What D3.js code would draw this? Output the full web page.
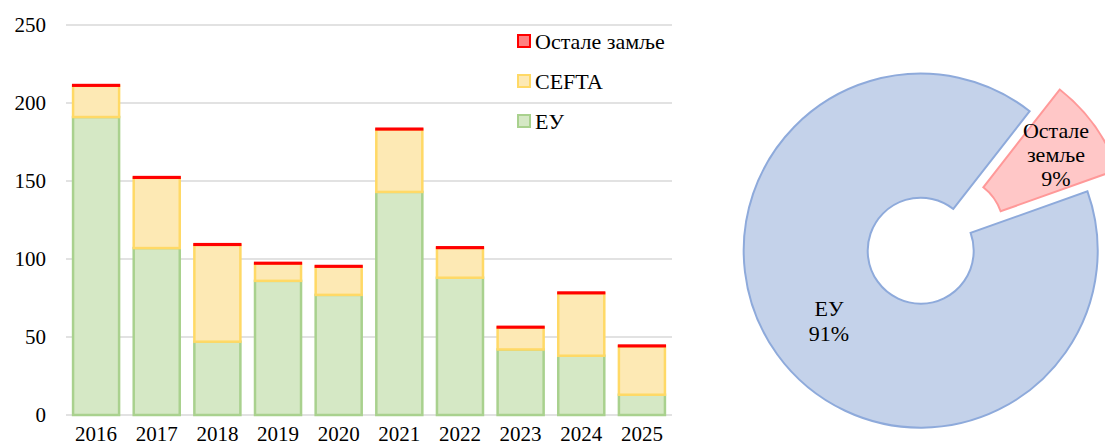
<!DOCTYPE html>
<html>
<head>
<meta charset="utf-8">
<script src="https://cdn.jsdelivr.net/npm/d3@7/dist/d3.min.js"></script>
<style>
  body { margin: 0; background: #fff; }
  svg { display: block; }
  text { font-family: "Liberation Serif", "DejaVu Serif", serif; fill: #000; }
</style>
</head>
<body>
<div id="chart"></div>
<script>
// data
var years = ["2016", "2017", "2018", "2019", "2020", "2021", "2022", "2023", "2024", "2025"];
var euValues = [191, 107, 47, 86, 77, 143, 88, 42, 38, 13];
var ceftaValues = [20, 45, 62, 11, 18, 40, 19, 14, 40, 31];
var otherValues = [0.6, 0.6, 0.6, 0.6, 0.6, 0.6, 0.6, 0.6, 0.6, 0.6];
var seriesNames = ["ЕУ", "CEFTA", "Остале замље"];
var yTicks = [0, 50, 100, 150, 200, 250];

var pieLabels = ["Остале земље", "ЕУ"];
var pieValues = [9, 91];

var width = 1105, height = 446;

var svg = d3.select("#chart")
  .append("svg")
  .attr("width", width)
  .attr("height", height);

// ---- stacked bars ----
var x = d3.scaleBand()
  .domain(years)
  .range([66, 672])
  .paddingInner(0.208)
  .paddingOuter(0.1);

var y = d3.scaleLinear()
  .domain([0, 250])
  .range([415, 25]);

// gridlines
svg.append("g")
  .selectAll("line")
  .data(yTicks)
  .enter()
  .append("line")
  .attr("x1", 66)
  .attr("x2", 672)
  .attr("y1", function(d) { return y(d); })
  .attr("y2", function(d) { return y(d); })
  .attr("stroke", "#d9d9d9")
  .attr("stroke-width", 1.3);

// y tick labels
svg.append("g")
  .selectAll("text")
  .data(yTicks)
  .enter()
  .append("text")
  .attr("x", 46)
  .attr("y", function(d) { return y(d); })
  .attr("dy", "0.35em")
  .attr("text-anchor", "end")
  .style("font-size", "21px")
  .text(function(d) { return d; });

// x labels (kept just inside the bottom edge)
svg.append("g")
  .selectAll("text")
  .data(years)
  .enter()
  .append("text")
  .attr("x", function(d) { return x(d) + x.bandwidth() / 2; })
  .attr("y", 441)
  .attr("text-anchor", "middle")
  .style("font-size", "21px")
  .text(function(d) { return d; });

var rows = years.map(function(yr, i) {
  return { year: yr, eu: euValues[i], cefta: ceftaValues[i], other: otherValues[i] };
});

var stack = d3.stack().keys(["eu", "cefta", "other"]);
var stacked = stack(rows);

var fills = { eu: "#d5e8c5", cefta: "#fde9b4", other: "#ff8080" };
var strokes = { eu: "#a9d18e", cefta: "#ffd966", other: "#ff0000" };

stacked.forEach(function(layer) {
  svg.append("g")
    .selectAll("rect")
    .data(layer)
    .enter()
    .append("rect")
    .attr("x", function(d) { return x(d.data.year) + 1; })
    .attr("width", x.bandwidth() - 2)
    .attr("y", function(d) { return y(d[1]); })
    .attr("height", function(d) { return Math.max(0, y(d[0]) - y(d[1])); })
    .attr("fill", fills[layer.key])
    .attr("stroke", strokes[layer.key])
    .attr("stroke-width", layer.key == "other" ? 2.2 : 2.5);
});

// legend
var legendKeys = ["other", "cefta", "eu"];
var legendNames = [seriesNames[2], seriesNames[1], seriesNames[0]];
var legend = svg.append("g");
legendKeys.forEach(function(k, i) {
  var ly = 41 + i * 40;
  legend.append("rect")
    .attr("x", 518)
    .attr("y", ly - 6)
    .attr("width", 12)
    .attr("height", 12)
    .attr("fill", fills[k])
    .attr("stroke", strokes[k])
    .attr("stroke-width", 2);
  legend.append("text")
    .attr("x", 535)
    .attr("y", ly)
    .attr("dy", "0.35em")
    .style("font-size", "22px")
    .text(legendNames[i]);
});

// ---- exploded doughnut ----
var cx = 920.7, cy = 250.7;
var outerR = 177, innerR = 53;
var startDeg = 38;

var pie = d3.pie()
  .sort(null)
  .value(function(d) { return d; })
  .startAngle(startDeg * Math.PI / 180)
  .endAngle((startDeg + 360) * Math.PI / 180);

var arc = d3.arc().innerRadius(innerR).outerRadius(outerR);
var pieData = pie(pieValues);

var pieFills = ["#ffc7c7", "#c4d2ea"];
var pieStrokes = ["#ff9999", "#8eaadb"];
var explode = [37, 0];

var pg = svg.append("g")
  .attr("transform", "translate(" + cx + "," + cy + ")");

pg.selectAll("path")
  .data(pieData)
  .enter()
  .append("path")
  .attr("d", arc)
  .attr("transform", function(d, i) {
    var mid = (d.startAngle + d.endAngle) / 2;
    return "translate(" + (Math.sin(mid) * explode[i]) + "," + (-Math.cos(mid) * explode[i]) + ")";
  })
  .attr("fill", function(d, i) { return pieFills[i]; })
  .attr("stroke", function(d, i) { return pieStrokes[i]; })
  .attr("stroke-width", 2);

// pie labels
var total = d3.sum(pieValues);
var otherLines = ["Остале", "земље", Math.round(pieValues[0] / total * 100) + "%"];
otherLines.forEach(function(t, i) {
  svg.append("text")
    .attr("x", 1056)
    .attr("y", 130 + i * 24)
    .attr("dy", "0.35em")
    .attr("text-anchor", "middle")
    .style("font-size", "22px")
    .text(t);
});
var euLines = [pieLabels[1], Math.round(pieValues[1] / total * 100) + "%"];
euLines.forEach(function(t, i) {
  svg.append("text")
    .attr("x", 829)
    .attr("y", 308 + i * 25)
    .attr("dy", "0.35em")
    .attr("text-anchor", "middle")
    .style("font-size", "22px")
    .text(t);
});
</script>
</body>
</html>
